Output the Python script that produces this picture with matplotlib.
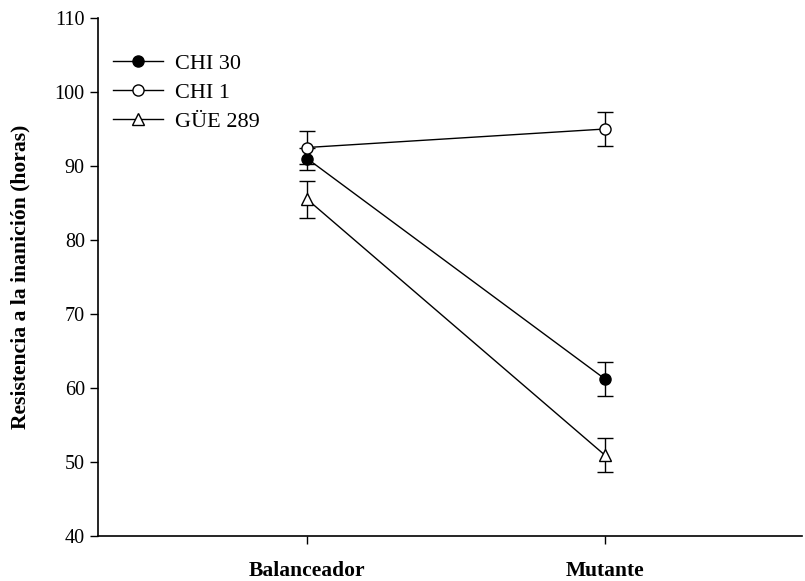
import numpy as np
import matplotlib
matplotlib.use("Agg")
import matplotlib.pyplot as plt
from matplotlib.lines import Line2D

# datos
categorias = ["Balanceador", "Mutante"]
series = ["CHI 30", "CHI 1", "GÜE 289"]
chi30 = [91.0, 61.2]
chi30_err = [1.5, 2.3]
chi1 = [92.5, 95.0]
chi1_err = [2.2, 2.3]
gue289 = [85.5, 50.9]
gue289_err = [2.5, 2.3]
yticks = [40, 50, 60, 70, 80, 90, 100, 110]

plt.rcParams['font.family'] = ['Liberation Serif', 'DejaVu Serif']

fig = plt.figure(figsize=(8.05, 5.81), dpi=100)
ax = fig.add_axes([98 / 805, 1 - 536 / 581, 1 - 98 / 805 - 0.004, (536 - 18) / 581])

x = np.arange(1, len(categorias) + 1)
estilos = [
    (chi30, chi30_err, dict(marker='o', mfc='black')),
    (chi1, chi1_err, dict(marker='o', mfc='white')),
    (gue289, gue289_err, dict(marker='^', mfc='white')),
]
handles = []
for (vals, err, st), nombre in zip(estilos, series):
    ax.errorbar(x, vals, yerr=err, color='black', lw=1.0, ms=8, mec='black',
                mew=1.0, capsize=5.5, capthick=1.0, elinewidth=1.0, **st)
    handles.append(Line2D([], [], color='black', lw=1.0, ms=8, mec='black',
                          mew=1.0, label=nombre, **st))

ax.set_xlim(0.298, 2.66)
ax.set_ylim(40, 110)
ax.set_yticks(yticks)
ax.set_xticks(x)
ax.set_xticklabels(categorias, fontweight='bold', fontsize=15.5)
ax.tick_params(axis='y', labelsize=14.5, direction='out', length=6, width=1)
ax.tick_params(axis='x', direction='out', length=6, width=1, pad=12)
for s in ['top', 'right']:
    ax.spines[s].set_visible(False)
for s in ['left', 'bottom']:
    ax.spines[s].set_linewidth(1.2)

fig.text(20 / 805, 1 - 277 / 581, "Resistencia a la inanición (horas)",
         rotation=90, ha='center', va='center', fontweight='bold', fontsize=15.6)

leg = fig.legend(handles=handles, loc='upper left',
                 bbox_to_anchor=(113 / 805, 1 - 53 / 581),
                 bbox_transform=fig.transFigure, frameon=False,
                 fontsize=16, handlelength=2.25, handletextpad=0.55,
                 labelspacing=0.38, borderaxespad=0, borderpad=0)

fig.savefig("out.png", dpi=100)
